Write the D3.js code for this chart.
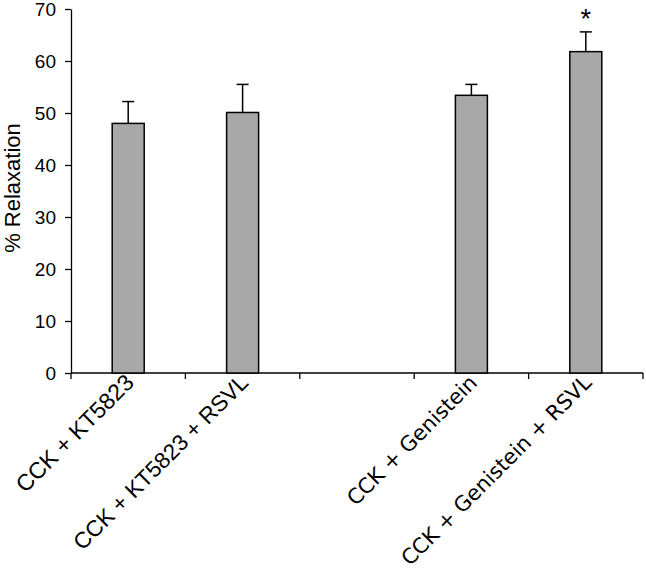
<!DOCTYPE html>
<html><head><meta charset="utf-8">
<script src="https://cdn.jsdelivr.net/npm/d3@7"></script>
<style>body{margin:0;background:#fff}</style>
</head><body>
<svg id="c" width="646" height="570"></svg>
<script>
const categories = ["CCK + KT5823","CCK + KT5823 + RSVL","","CCK + Genistein","CCK + Genistein + RSVL"];
const values = [48.0, 50.1, null, 53.4, 61.8];
const errors = [4.2, 5.4, null, 2.1, 3.8];
const significant = [false, false, false, false, true];
const yTicks = [0,10,20,30,40,50,60,70];
const labelFonts = ["Liberation Sans, Arial, sans-serif","Liberation Sans, Arial, sans-serif","","DejaVu Sans, Verdana, sans-serif","DejaVu Sans, Verdana, sans-serif"];
const labelSizes = [23, 22.5, 0, 21, 21];

const svg = d3.select("#c");
const x = d3.scaleBand().domain(d3.range(categories.length)).range([71, 643]).paddingInner(0).paddingOuter(0);
const y = d3.scaleLinear().domain([0, 70]).range([373, 9]);
const barW = 32;

// y axis
const ya = svg.append("g").attr("transform","translate(71,0)")
  .call(d3.axisLeft(y).tickValues(yTicks).tickSize(6).tickPadding(9).tickSizeOuter(0));
ya.select(".domain").attr("stroke","#000").attr("stroke-width",1.3);
ya.selectAll(".tick line").attr("stroke","#000").attr("stroke-width",1.3);
ya.selectAll(".tick text").attr("font-family","Liberation Sans, Arial, sans-serif").attr("font-size",19).attr("fill","#000");

// x axis
const xTickPos = d3.range(categories.length).map(i => x(i)).concat([x.range()[1]]);
svg.append("line").attr("x1",71).attr("x2",643).attr("y1",y(0)).attr("y2",y(0)).attr("stroke","#000").attr("stroke-width",1.3);
svg.selectAll(".xt").data(xTickPos).join("line").attr("class","xt")
  .attr("x1",d=>d).attr("x2",d=>d).attr("y1",y(0)).attr("y2",y(0)+6).attr("stroke","#000").attr("stroke-width",1.3);

const data = categories.map((c,i)=>({c,i,v:values[i],e:errors[i],s:significant[i]})).filter(d=>d.v!=null);
const cx = d => x(d.i) + x.bandwidth()/2;

// error bars
svg.selectAll(".eb").data(data).join("line").attr("class","eb")
  .attr("x1",cx).attr("x2",cx).attr("y1",d=>y(d.v)).attr("y2",d=>y(d.v+d.e)).attr("stroke","#000").attr("stroke-width",1.5);
svg.selectAll(".ec").data(data).join("line").attr("class","ec")
  .attr("x1",d=>cx(d)-6).attr("x2",d=>cx(d)+6).attr("y1",d=>y(d.v+d.e)).attr("y2",d=>y(d.v+d.e)).attr("stroke","#000").attr("stroke-width",1.5);

// bars
svg.selectAll(".bar").data(data).join("rect").attr("class","bar")
  .attr("x",d=>cx(d)-barW/2).attr("width",barW)
  .attr("y",d=>y(d.v)).attr("height",d=>y(0)-y(d.v))
  .attr("fill","#a8a8a8").attr("stroke","#000").attr("stroke-width",1.5);

// significance
svg.selectAll(".sig").data(data.filter(d=>d.s)).join("text").attr("class","sig")
  .attr("x",cx).attr("y",d=>y(d.v+d.e)-4).attr("text-anchor","middle")
  .attr("font-family","Liberation Sans, Arial, sans-serif").attr("font-size",27).text("*");

// x labels
svg.selectAll(".xl").data(data).join("text").attr("class","xl")
  .attr("transform",d=>`translate(${cx(d)+7},${y(0)+11}) rotate(-45)`)
  .attr("text-anchor","end")
  .attr("font-family",d=>labelFonts[d.i]).attr("font-size",d=>labelSizes[d.i])
  .attr("fill","#000").text(d=>d.c);

// y title
svg.append("text").attr("transform","translate(20,188) rotate(-90)").attr("text-anchor","middle")
  .attr("font-family","Liberation Sans, Arial, sans-serif").attr("font-size",22).text("% Relaxation");
</script>
</body></html>
